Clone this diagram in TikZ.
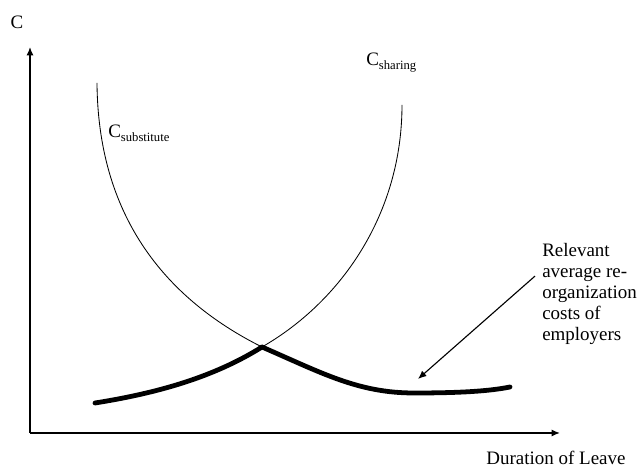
\documentclass[tikz,border=0pt]{standalone}
\usepackage{fontspec}
\setmainfont{Liberation Serif}
\usepackage{tikz}
\usetikzlibrary{arrows.meta}
\newcommand{\sublabel}[1]{C\raisebox{-0.45ex}{\fontsize{9}{9}\selectfont #1}}

\begin{document}
\begin{tikzpicture}[font=\fontsize{13.5}{15}\selectfont,
  axis/.style={line width=1pt,-{Latex[length=6pt,width=5pt]}},
  costcurve/.style={line width=0.6pt},
  envelope/.style={line width=3.4pt,line cap=round}]
  \useasboundingbox (-0.75,-0.875) rectangle (15.175,10.825);

  \draw[axis] (0,0) -- (0,9.65);
  \draw[axis] (0,0) -- (13.25,0);
  \node (ylab) at (-0.325,10.275) {C};
  \node (xlab) at (13.15,-0.625) {Duration of Leave};

  % the two cost curves
  \coordinate (cross) at (5.8,2.15);
  \draw[costcurve] (1.675,8.75) .. controls (1.7,5.5) and (3.3,3.4) .. (cross);
  \draw[costcurve] (9.3,8.2) .. controls (9.3,5.5) and (7.8,3.3) .. (cross);
  \node[anchor=west,inner sep=0pt] (subst) at (1.95,7.5) {\sublabel{substitute}};
  \node[anchor=west,inner sep=0pt] (share) at (8.4,9.25) {\sublabel{sharing}};

  % lower envelope
  \draw[envelope] (1.625,0.75) .. controls (3.2,1.0) and (4.6,1.4) .. (cross);
  \draw[envelope] (cross) .. controls (7.3,1.5) and (8.2,1.0) .. (9.6,1.0)
    .. controls (10.8,1.0) and (11.5,1.05) .. (12.0,1.15);

  \node[anchor=north west,align=left,inner sep=0pt] (rel) at (12.8,4.75)
    {Relevant\\average re-\\organization\\costs of\\employers};
  \coordinate (tip) at (9.7,1.35);
  \draw[line width=0.8pt,-{Latex[length=6pt,width=5pt]}] ([shift={(-0.175,0.45)}]rel.west) -- (tip);
\end{tikzpicture}
\end{document}
